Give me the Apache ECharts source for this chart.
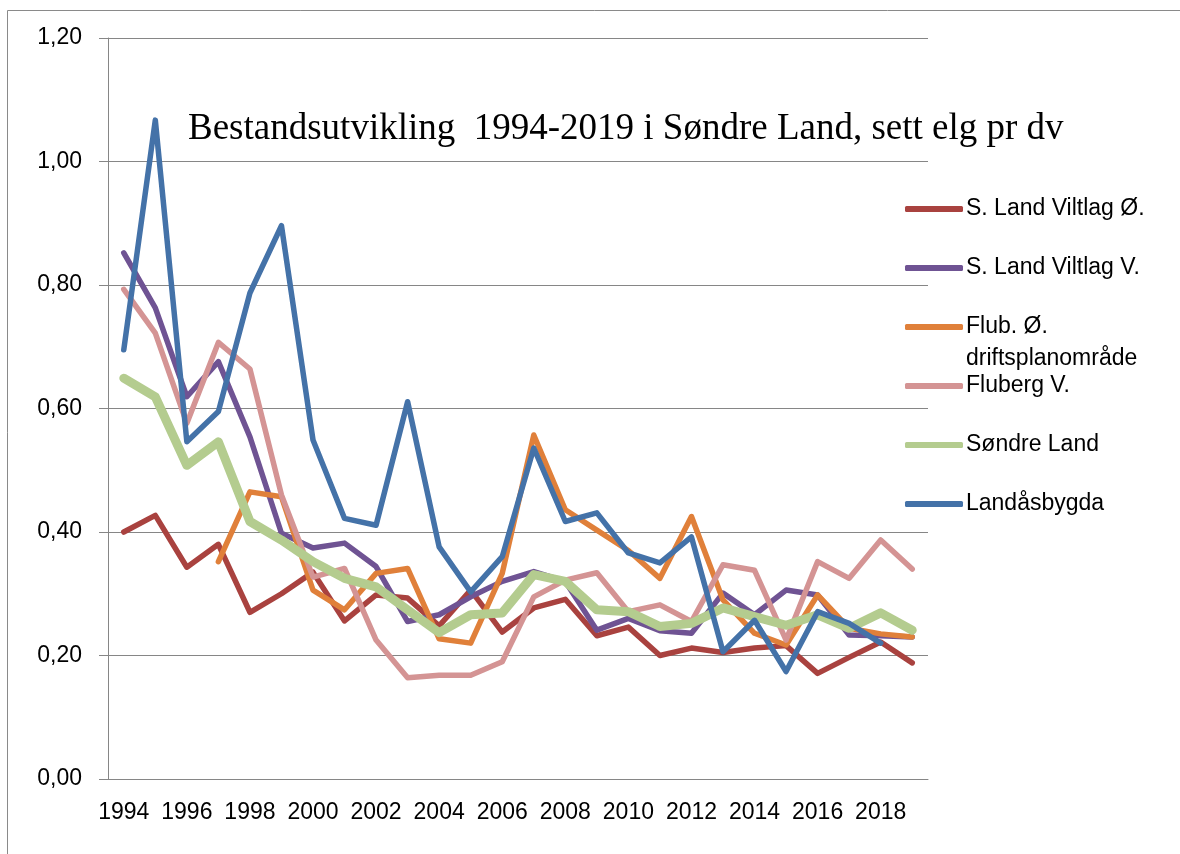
<!DOCTYPE html>
<html>
<head>
<meta charset="utf-8">
<script src="https://cdn.jsdelivr.net/npm/echarts@6/dist/echarts.min.js"></script>
<style>
  html, body { margin: 0; padding: 0; background: #fff; }
  #elg { width: 1180px; height: 854px; }
</style>
</head>
<body>
<div id="elg"></div>
<script>
// år og sett elg pr dagsverk, lest av figuren
var years = ['1994','1995','1996','1997','1998','1999','2000','2001','2002','2003','2004','2005','2006',
             '2007','2008','2009','2010','2011','2012','2013','2014','2015','2016','2017','2018','2019'];
var viltlagO = [0.40,0.427,0.343,0.38,0.27,0.30,0.335,0.256,0.298,0.293,0.248,0.306,0.238,
                0.277,0.291,0.232,0.246,0.20,0.212,0.205,0.212,0.216,0.171,0.197,0.222,0.188];
var viltlagV = [0.852,0.763,0.619,0.676,0.554,0.398,0.374,0.382,0.344,0.255,0.266,0.295,0.32,
                0.336,0.32,0.241,0.26,0.24,0.236,0.301,0.266,0.306,0.298,0.233,0.232,0.23];
var flubO = [null,null,null,0.352,0.465,0.457,0.306,0.274,0.333,0.341,0.227,0.22,0.333,
             0.557,0.436,0.403,0.37,0.325,0.425,0.29,0.236,0.217,0.298,0.244,0.235,0.23];
var flubergV = [0.793,0.722,0.576,0.707,0.664,0.46,0.327,0.341,0.225,0.164,0.168,0.168,0.19,
                0.295,0.322,0.334,0.271,0.282,0.255,0.347,0.338,0.225,0.352,0.325,0.387,0.34];
var sondreLand = [0.649,0.619,0.508,0.546,0.417,0.387,0.352,0.325,0.311,0.274,0.237,0.266,0.269,
                  0.331,0.32,0.274,0.271,0.247,0.252,0.277,0.263,0.249,0.266,0.244,0.269,0.241];
var landasbygda = [0.695,1.067,0.546,0.595,0.787,0.896,0.549,0.422,0.411,0.611,0.376,0.303,0.36,
                   0.536,0.417,0.431,0.366,0.35,0.392,0.206,0.257,0.174,0.271,0.252,0.22,null];
var yTicks = [0, 0.2, 0.4, 0.6, 0.8, 1.0, 1.2];

var chart = echarts.init(document.getElementById('elg'));

function line(name, data, color, width) {
  return {
    name: name,
    type: 'line',
    data: data,
    symbol: 'none',
    connectNulls: false,
    lineStyle: { color: color, width: width, cap: 'round', join: 'round' },
    itemStyle: { color: color }
  };
}

var option = {
  backgroundColor: '#fff',
  animation: false,
  title: {
    text: 'Bestandsutvikling  1994-2019 i Søndre Land, sett elg pr dv',
    left: 183,
    top: 106,
    textStyle: { fontFamily: 'Liberation Serif', fontSize: 37, fontWeight: 'normal', color: '#000' }
  },
  legend: {
    orient: 'vertical',
    left: 900,
    top: 189,
    icon: 'roundRect',
    itemWidth: 58,
    itemHeight: 6,
    itemGap: 29,
    textStyle: { fontFamily: 'Liberation Sans', fontSize: 23, color: '#000', lineHeight: 30, padding: [0, 0, 0, -2] },
    formatter: function (n) {
      return n === 'Flub. Ø. driftsplanområde' ? 'Flub. Ø.' : n;
    }
  },
  graphic: [
    { type: 'rect', shape: { x: 7.5, y: 10.5, width: 1200, height: 900 },
      style: { fill: 'none', stroke: '#8a8a8a', lineWidth: 1 }, silent: true },
    { type: 'text', left: 966, top: 347,
      style: { text: 'driftsplanområde', font: '23px "Liberation Sans"', fill: '#000' } }
  ],
  grid: { left: 108, right: 252, top: 38, bottom: 75 },
  xAxis: {
    type: 'category',
    data: years,
    boundaryGap: true,
    axisLine: { lineStyle: { color: '#868686', width: 1 } },
    axisTick: { interval: 0, length: 9, lineStyle: { color: '#868686' } },
    axisLabel: { interval: 1, margin: 22, fontFamily: 'Liberation Sans', fontSize: 23, color: '#000' }
  },
  yAxis: {
    type: 'value',
    min: yTicks[0],
    max: yTicks[yTicks.length - 1],
    interval: 0.2,
    axisLine: { show: true, lineStyle: { color: '#868686', width: 1 } },
    axisTick: { show: true, length: 9, lineStyle: { color: '#868686' } },
    splitLine: { lineStyle: { color: '#868686', width: 1 } },
    axisLabel: {
      margin: 26, fontFamily: 'Liberation Sans', fontSize: 23, color: '#000',
      formatter: function (v) { return v.toFixed(2).replace('.', ','); }
    }
  },
  series: [
    line('S. Land Viltlag Ø.', viltlagO, '#A9423F', 5.5),
    line('S. Land Viltlag V.', viltlagV, '#6F5393', 5.5),
    line('Flub. Ø. driftsplanområde', flubO, '#E0803A', 5.5),
    line('Fluberg V.', flubergV, '#D49494', 5.5),
    line('Søndre Land', sondreLand, '#B4CC8F', 9),
    line('Landåsbygda', landasbygda, '#4472A8', 5.5)
  ]
};

chart.setOption(option);
</script>
</body>
</html>
